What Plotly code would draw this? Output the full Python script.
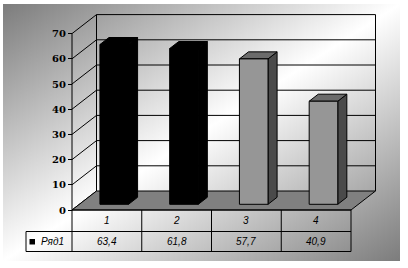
import base64
import plotly.graph_objects as go

# ---------------- data ----------------
categories = ["1", "2", "3", "4"]
values = [63.4, 61.8, 57.7, 40.9]
value_labels = ["63,4", "61,8", "57,7", "40,9"]
series_name = "Ряд1"
y_ticks = [0, 10, 20, 30, 40, 50, 60, 70]

# per-bar styling
front_colors = ["#000000", "#000000", "#969696", "#969696"]
top_colors = ["#000000", "#000000", "#6b6b6b", "#6b6b6b"]
side_colors = ["#000000", "#000000", "#4a4a4a", "#4a4a4a"]

# ---------------- geometry ----------------
W, H = 408, 268
PX0, CAT_PX = 72.0, 69.75      # front plane: x pixel of category start, px per category
PY0, VAL_PX = 210.0, 2.52      # front plane: y pixel of value 0, px per value unit

x_range = [0.5 - PX0 / CAT_PX, 0.5 + (W - PX0) / CAT_PX]
y_range = [(PY0 - H) / VAL_PX, PY0 / VAL_PX]


def px_x(p):
    return 0.5 + (p - PX0) / CAT_PX


def px_y(p):
    return (PY0 - p) / VAL_PX


DX = 24.5 / CAT_PX   # full depth in category units
DY = 19.0 / VAL_PX   # full depth in value units
D_FRONT, D_BACK = 0.30, 0.67
BW = 0.41
n = len(categories)
x_lo, x_hi = 0.5, n + 0.5
y_top = y_ticks[-1]

fig = go.Figure()
LINE = dict(color="black", width=1)


def poly(xs, ys, fill, line=LINE):
    fig.add_trace(go.Scatter(x=xs + [xs[0]], y=ys + [ys[0]], mode="lines",
                             fill="toself", fillcolor=fill, line=line,
                             hoverinfo="skip", showlegend=False))


def seg(x0, y0, x1, y1):
    fig.add_trace(go.Scatter(x=[x0, x1], y=[y0, y1], mode="lines", line=LINE,
                             hoverinfo="skip", showlegend=False))


# back wall gridlines and frame
for t in y_ticks[1:]:
    seg(x_lo + DX, t + DY, x_hi + DX, t + DY)
seg(x_lo + DX, DY, x_lo + DX, y_top + DY)
seg(x_hi + DX, DY, x_hi + DX, y_top + DY)
# side wall gridlines
for t in y_ticks:
    seg(x_lo, t, x_lo + DX, t + DY)
# front value axis line
seg(x_lo, 0, x_lo, y_top)

# floor
poly([x_lo, x_hi, x_hi + DX, x_lo + DX], [0, 0, DY, DY], "#808080")

# bars
ddx = (D_BACK - D_FRONT) * DX
ddy = (D_BACK - D_FRONT) * DY
base = D_FRONT * DY
for i, v in enumerate(values):
    xc = i + 1 + D_FRONT * DX
    xl, xr = xc - BW / 2, xc + BW / 2
    top = base + v
    # side face
    poly([xr, xr, xr + ddx, xr + ddx], [base, top, top + ddy, base + ddy], side_colors[i])
    # top face
    poly([xl, xr, xr + ddx, xl + ddx], [top, top, top + ddy, top + ddy], top_colors[i])
    # front face
    poly([xl, xr, xr, xl], [base, base, top, top], front_colors[i])

# ---------------- data table ----------------
r1 = px_y(231.5)
r2 = px_y(251.5)
leg_left = px_x(26)
seg(x_lo, 0, x_hi, 0)
seg(leg_left, r1, x_hi, r1)
seg(leg_left, r2, x_hi, r2)
seg(leg_left, r1, leg_left, r2)
for k in range(n + 1):
    seg(x_lo + k, 0, x_lo + k, r2)

annotations = []
tfont = dict(family="Liberation Sans, Arial", size=10, color="black")
for i, c in enumerate(categories):
    annotations.append(dict(x=i + 1, y=(0 + r1) / 2, text="<i>%s</i>" % c, showarrow=False,
                            xref="x", yref="y", font=tfont))
    annotations.append(dict(x=i + 1, y=(r1 + r2) / 2, text="<i>%s</i>" % value_labels[i],
                            showarrow=False, xref="x", yref="y", font=tfont))
annotations.append(dict(x=px_x(39), y=(r1 + r2) / 2, text="<i>%s</i>" % series_name,
                        showarrow=False, xref="x", yref="y", xanchor="left", font=tfont))

shapes = [dict(type="rect", xref="x", yref="y", x0=px_x(29.5), x1=px_x(35),
               y0=px_y(244.5), y1=px_y(239), fillcolor="black", line=dict(width=0))]

# background gradient
svg = ('<svg xmlns="http://www.w3.org/2000/svg" width="397" height="257">'
       '<defs><linearGradient id="g" x1="0" y1="0" x2="1" y2="1">'
       '<stop offset="0" stop-color="#7c7c7c"/><stop offset="0.5" stop-color="#ffffff"/>'
       '<stop offset="1" stop-color="#7c7c7c"/></linearGradient></defs>'
       '<rect width="397" height="257" fill="url(#g)"/></svg>')
src = "data:image/svg+xml;base64," + base64.b64encode(svg.encode()).decode()

fig.update_layout(
    width=W, height=H, margin=dict(l=0, r=0, t=0, b=0),
    paper_bgcolor="white", plot_bgcolor="rgba(0,0,0,0)",
    showlegend=False,
    xaxis=dict(range=x_range, visible=False, fixedrange=True),
    yaxis=dict(range=y_range, anchor="free", position=PX0 / W,
               tickvals=y_ticks, ticks="outside", ticklen=4, tickcolor="black",
               showgrid=False, zeroline=False, showline=False,
               tickfont=dict(family="DejaVu Serif", size=10, color="black", weight="bold")),
    annotations=annotations,
    shapes=shapes,
    images=[dict(source=src, xref="paper", yref="paper", x=3 / W, y=1 - 4 / H,
                 sizex=397 / W, sizey=257 / H, xanchor="left", yanchor="top",
                 sizing="stretch", layer="below")],
)

fig.write_html("out.html")
